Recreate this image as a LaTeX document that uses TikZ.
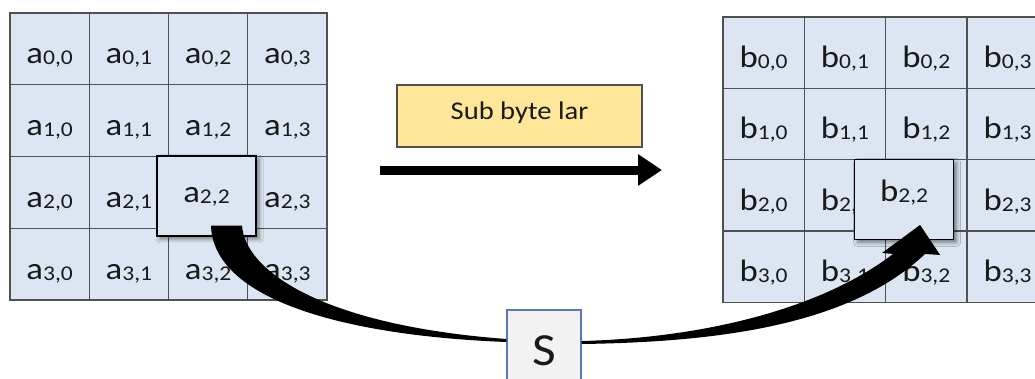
\documentclass[tikz,border=0pt]{standalone}
\usepackage{fontspec}
\setmainfont{Carlito}[FakeStretch=1.12]
\usetikzlibrary{arrows.meta,calc,shadows.blur}
\definecolor{cellblue}{RGB}{220,230,242}
\definecolor{gridgray}{RGB}{80,80,80}
\definecolor{laryellow}{RGB}{255,230,153}
\definecolor{sboxgray}{RGB}{242,242,242}
\definecolor{sboxedge}{RGB}{90,120,180}
\definecolor{labeldark}{RGB}{25,25,25}
% state entry: letter with a small index
\newcommand{\cellname}[2]{#1{\fontsize{21}{21}\selectfont\raisebox{-1pt}{#2}}}

\begin{document}
\begin{tikzpicture}[
    x=1pt,y=-1pt,
    every node/.style={text=labeldark},
    cell/.style={rectangle,draw=gridgray,fill=cellblue,line width=1.3pt,inner sep=0pt,
      font=\fontsize{31}{31}\selectfont,text height=30pt,text depth=0pt},
    focus/.style={rectangle,draw=black,fill=cellblue,line width=1.3pt,inner sep=0pt,
      minimum width=99pt,minimum height=80pt,font=\fontsize{31}{31}\selectfont,text depth=0pt,
      blur shadow={shadow xshift=3pt,shadow yshift=-3pt,shadow blur radius=4pt,shadow opacity=50}},
    stagebox/.style={rectangle,draw=gridgray,fill=laryellow,line width=1.3pt,
      minimum width=245pt,minimum height=62pt,font=\fontsize{25.5}{25.5}\selectfont,
      text height=6pt,text depth=0pt},
    sbox/.style={rectangle,draw=sboxedge,fill=sboxgray,line width=1.3pt,
      minimum width=74pt,minimum height=76pt,font=\fontsize{46}{46}\selectfont,
      text height=34pt,text depth=0pt},
    arrow/.style={-{Triangle[length=24pt,width=30pt]},line width=9pt}
  ]
    \useasboundingbox (0,0) rectangle (1035,378);
    % input state a (entry 2,2 is lifted out below)
    \foreach \r in {0,...,3}
      \foreach \c in {0,...,3}{
        \ifnum\r\c=22 \def\entry{}\else\def\entry{\cellname{a}{\r,\c}}\fi
        \node[cell,minimum width=79.25pt,minimum height=71.75pt] (a\r\c)
          at ({10+79.25*(\c+0.5)},{13+71.75*(\r+0.5)}) {\entry};
      }
    % output state b
    \foreach \r in {0,...,3}
      \foreach \c in {0,...,3}{
        \ifnum\r\c=22 \def\entry{}\else\def\entry{\cellname{b}{\r,\c}}\fi
        \node[cell,minimum width=81.3pt,minimum height=71.3pt] (b\r\c)
          at ({723+81.3*(\c+0.5)},{17+71.3*(\r+0.5)}) {\entry};
      }
    \node[focus,text height=14pt] (abig) at ($(a22)+(-1.6,3.6)$) {\cellname{a}{2,2}};
    \node[focus,text height=5pt] (bbig) at ($(b22)+(-22.2,4.2)$) {\cellname{b}{2,2}};
    \node[stagebox] (lar) at (519.5,116) {Sub byte lar};
    \node[sbox] (sbox) at (544,348) {S};
    \coordinate (flowin) at (380,170);
    \coordinate (flowout) at (662,170);
    \draw[arrow] (flowin) -- (flowout);
    % a22 into the S-box
    \fill ($(abig.south)+(4.5,-11)$) .. controls (213,295) and (330,335) .. ($(sbox.west)+(0,-6)$)
      -- ($(sbox.west)+(0,-9)$) .. controls (320,325) and (245,270) .. ($(abig.south)+(35.5,-11)$) -- cycle;
    % S-box out to b22
    \fill ($(sbox.east)+(0,-7)$) .. controls (700,338) and (820,310) .. ($(bbig.center)+(-11,54.5)$)
      -- ($(bbig.center)+(-22,53.5)$) -- ($(bbig.center)+(16,25.5)$) -- ($(bbig.center)+(36,55.5)$)
      -- ($(bbig.center)+(21,54.5)$) .. controls (850,325) and (720,342) .. ($(sbox.east)+(0,-4)$) -- cycle;
  \end{tikzpicture}
\end{document}
